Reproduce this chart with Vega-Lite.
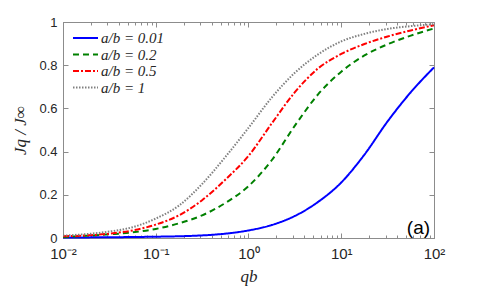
{
  "$schema": "https://vega.github.io/schema/vega-lite/v6.json",
  "width": 371,
  "height": 216,
  "autosize": {"type": "none"},
  "padding": {"left": 63, "top": 22, "right": 46, "bottom": 50},
  "background": "white",
  "config": {
    "view": {"stroke": "#8c8c8c", "strokeWidth": 1},
    "axis": {
      "domainColor": "#8c8c8c",
      "tickColor": "#8c8c8c",
      "labelColor": "#262626",
      "labelFont": "Liberation Sans",
      "titleFont": "Liberation Serif",
      "titleFontStyle": "italic",
      "titleFontWeight": "normal",
      "titleColor": "#262626",
      "grid": false
    }
  },
  "datasets": {
    "curves": [
      {"q": 0.01, "v": 0.002, "s": "a/b = 0.01"},
      {"q": 0.01778, "v": 0.0028, "s": "a/b = 0.01"},
      {"q": 0.03162, "v": 0.0035, "s": "a/b = 0.01"},
      {"q": 0.05623, "v": 0.0045, "s": "a/b = 0.01"},
      {"q": 0.1, "v": 0.006, "s": "a/b = 0.01"},
      {"q": 0.1778, "v": 0.008, "s": "a/b = 0.01"},
      {"q": 0.3162, "v": 0.012, "s": "a/b = 0.01"},
      {"q": 0.5623, "v": 0.02, "s": "a/b = 0.01"},
      {"q": 1, "v": 0.035, "s": "a/b = 0.01"},
      {"q": 1.778, "v": 0.06, "s": "a/b = 0.01"},
      {"q": 3.162, "v": 0.102, "s": "a/b = 0.01"},
      {"q": 5.623, "v": 0.167, "s": "a/b = 0.01"},
      {"q": 10, "v": 0.257, "s": "a/b = 0.01"},
      {"q": 17.78, "v": 0.386, "s": "a/b = 0.01"},
      {"q": 31.62, "v": 0.54, "s": "a/b = 0.01"},
      {"q": 56.23, "v": 0.675, "s": "a/b = 0.01"},
      {"q": 100, "v": 0.79, "s": "a/b = 0.01"},

      {"q": 0.01, "v": 0.005, "s": "a/b = 0.2"},
      {"q": 0.01778, "v": 0.01, "s": "a/b = 0.2"},
      {"q": 0.03162, "v": 0.017, "s": "a/b = 0.2"},
      {"q": 0.05623, "v": 0.026, "s": "a/b = 0.2"},
      {"q": 0.1, "v": 0.042, "s": "a/b = 0.2"},
      {"q": 0.1778, "v": 0.068, "s": "a/b = 0.2"},
      {"q": 0.3162, "v": 0.105, "s": "a/b = 0.2"},
      {"q": 0.5623, "v": 0.162, "s": "a/b = 0.2"},
      {"q": 1, "v": 0.24, "s": "a/b = 0.2"},
      {"q": 1.778, "v": 0.36, "s": "a/b = 0.2"},
      {"q": 3.162, "v": 0.52, "s": "a/b = 0.2"},
      {"q": 5.623, "v": 0.665, "s": "a/b = 0.2"},
      {"q": 10, "v": 0.77, "s": "a/b = 0.2"},
      {"q": 17.78, "v": 0.845, "s": "a/b = 0.2"},
      {"q": 31.62, "v": 0.897, "s": "a/b = 0.2"},
      {"q": 56.23, "v": 0.937, "s": "a/b = 0.2"},
      {"q": 100, "v": 0.97, "s": "a/b = 0.2"},

      {"q": 0.01, "v": 0.008, "s": "a/b = 0.5"},
      {"q": 0.01778, "v": 0.012, "s": "a/b = 0.5"},
      {"q": 0.03162, "v": 0.02, "s": "a/b = 0.5"},
      {"q": 0.05623, "v": 0.035, "s": "a/b = 0.5"},
      {"q": 0.1, "v": 0.062, "s": "a/b = 0.5"},
      {"q": 0.1778, "v": 0.105, "s": "a/b = 0.5"},
      {"q": 0.3162, "v": 0.175, "s": "a/b = 0.5"},
      {"q": 0.5623, "v": 0.27, "s": "a/b = 0.5"},
      {"q": 1, "v": 0.38, "s": "a/b = 0.5"},
      {"q": 1.778, "v": 0.53, "s": "a/b = 0.5"},
      {"q": 3.162, "v": 0.675, "s": "a/b = 0.5"},
      {"q": 5.623, "v": 0.785, "s": "a/b = 0.5"},
      {"q": 10, "v": 0.852, "s": "a/b = 0.5"},
      {"q": 17.78, "v": 0.898, "s": "a/b = 0.5"},
      {"q": 31.62, "v": 0.933, "s": "a/b = 0.5"},
      {"q": 56.23, "v": 0.961, "s": "a/b = 0.5"},
      {"q": 100, "v": 0.985, "s": "a/b = 0.5"},

      {"q": 0.01, "v": 0.011, "s": "a/b = 1"},
      {"q": 0.01778, "v": 0.018, "s": "a/b = 1"},
      {"q": 0.03162, "v": 0.03, "s": "a/b = 1"},
      {"q": 0.05623, "v": 0.05, "s": "a/b = 1"},
      {"q": 0.1, "v": 0.09, "s": "a/b = 1"},
      {"q": 0.1778, "v": 0.15, "s": "a/b = 1"},
      {"q": 0.3162, "v": 0.25, "s": "a/b = 1"},
      {"q": 0.5623, "v": 0.375, "s": "a/b = 1"},
      {"q": 1, "v": 0.51, "s": "a/b = 1"},
      {"q": 1.778, "v": 0.65, "s": "a/b = 1"},
      {"q": 3.162, "v": 0.765, "s": "a/b = 1"},
      {"q": 5.623, "v": 0.85, "s": "a/b = 1"},
      {"q": 10, "v": 0.91, "s": "a/b = 1"},
      {"q": 17.78, "v": 0.945, "s": "a/b = 1"},
      {"q": 31.62, "v": 0.968, "s": "a/b = 1"},
      {"q": 56.23, "v": 0.981, "s": "a/b = 1"},
      {"q": 100, "v": 0.99, "s": "a/b = 1"}
    ]
  },
  "layer": [
    {
      "data": {"name": "curves"},
      "mark": {"type": "line", "interpolate": "monotone", "strokeWidth": 2},
      "encoding": {
        "x": {
          "field": "q", "type": "quantitative",
          "scale": {"type": "log", "domain": [0.01, 100], "nice": false},
          "axis": {
            "orient": "bottom",
            "title": "qb",
            "titleFontSize": 17,
            "titlePadding": 5,
            "labelFontSize": 15,
            "labelPadding": 13,
            "values": [0.01,0.02,0.03,0.04,0.05,0.06,0.07,0.08,0.09,0.1,0.2,0.3,0.4,0.5,0.6,0.7,0.8,0.9,1,2,3,4,5,6,7,8,9,10,20,30,40,50,60,70,80,90,100],
            "labelExpr": "datum.value == 0.01 ? '10⁻²' : datum.value == 0.1 ? '10⁻¹' : datum.value == 1 ? '10⁰' : datum.value == 10 ? '10¹' : datum.value == 100 ? '10²' : ''",
            "labelOverlap": false,
            "labelFlush": false,
            "tickSize": {"condition": {"test": "indexof([0.01,0.1,1,10,100], datum.value) >= 0", "value": -5}, "value": -3}
          }
        },
        "y": {
          "field": "v", "type": "quantitative",
          "scale": {"domain": [0, 1], "nice": false},
          "axis": {
            "orient": "left",
            "title": "Jq / J∞",
            "titleFontSize": 17,
            "titlePadding": 9,
            "labelFontSize": 13,
            "labelPadding": 11,
            "values": [0, 0.2, 0.4, 0.6, 0.8, 1],
            "format": "~g",
            "tickSize": -5
          }
        },
        "color": {
          "field": "s", "type": "nominal",
          "scale": {"domain": ["a/b = 0.01", "a/b = 0.2", "a/b = 0.5", "a/b = 1"], "range": ["#0000ff", "#008000", "#ff0000", "#808080"]},
          "legend": {
            "title": null,
            "orient": "none",
            "legendX": 9,
            "legendY": 8,
            "padding": 0,
            "symbolType": "stroke",
            "symbolSize": 625,
            "symbolStrokeWidth": 2,
            "clipHeight": 16,
            "rowPadding": 0.5,
            "labelOffset": 2,
            "labelFont": "Liberation Serif",
            "labelFontStyle": "italic",
            "labelFontSize": 15,
            "labelColor": "#262626"
          }
        },
        "strokeDash": {
          "field": "s", "type": "nominal",
          "scale": {"domain": ["a/b = 0.01", "a/b = 0.2", "a/b = 0.5", "a/b = 1"], "range": [[1, 0], [6, 4], [6, 2, 2, 2], [1.5, 1.5]]},
          "legend": null
        }
      }
    },
    {
      "data": {"values": [{}]},
      "mark": {"type": "text", "text": "(a)", "font": "Liberation Sans", "fontSize": 19, "fill": "#000000", "align": "center", "baseline": "middle"},
      "encoding": {
        "x": {
          "datum": 68, "type": "quantitative",
          "axis": {
            "orient": "top", "title": null, "labels": false,
            "values": [0.01,0.02,0.03,0.04,0.05,0.06,0.07,0.08,0.09,0.1,0.2,0.3,0.4,0.5,0.6,0.7,0.8,0.9,1,2,3,4,5,6,7,8,9,10,20,30,40,50,60,70,80,90,100],
            "tickSize": {"condition": {"test": "indexof([0.01,0.1,1,10,100], datum.value) >= 0", "value": -5}, "value": -3}
          }
        },
        "y": {
          "datum": 0.046, "type": "quantitative",
          "axis": {"orient": "right", "title": null, "labels": false, "values": [0, 0.2, 0.4, 0.6, 0.8, 1], "tickSize": -5}
        }
      }
    }
  ],
  "resolve": {"axis": {"x": "independent", "y": "independent"}}
}
